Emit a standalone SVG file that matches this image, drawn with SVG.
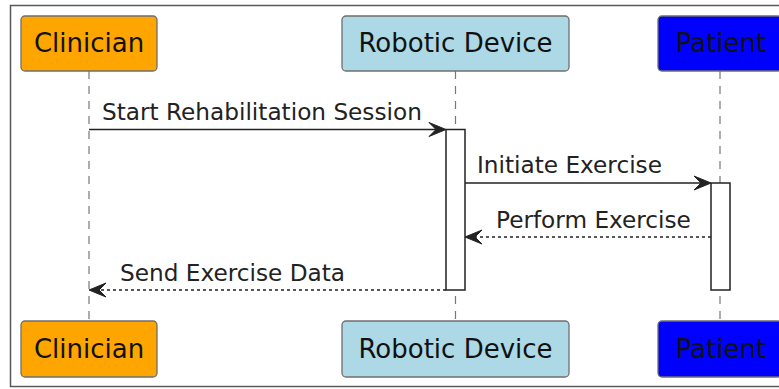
<svg xmlns="http://www.w3.org/2000/svg" width="779" height="389" viewBox="0 0 779 389">
  <style>
    .frame { fill: #ffffff; stroke: #5a5a5a; stroke-width: 1.5; }
    .lifeline { stroke: #777777; stroke-width: 1.2; stroke-dasharray: 8,7; fill: none; }
    .box { stroke: #6f6f6f; stroke-width: 1.3; }
    .ptext { font-family: "DejaVu Sans", "Liberation Sans", sans-serif; font-size: 26px; fill: #111111; text-anchor: middle; }
    .mtext { font-family: "DejaVu Sans", "Liberation Sans", sans-serif; font-size: 23.2px; fill: #222222; }
    .act { fill: #ffffff; stroke: #222222; stroke-width: 1.5; }
    .sync { stroke: #222222; stroke-width: 1.5; fill: none; }
    .reply { stroke: #222222; stroke-width: 1.5; fill: none; stroke-dasharray: 3,3; }
    .head { fill: #222222; stroke: #222222; stroke-width: 1; }
  </style>

  <!-- outer frame -->
  <rect class="frame" x="10.5" y="5.5" width="800" height="381"/>

  <!-- lifelines -->
  <g id="lifelines">
    <line class="lifeline" x1="89" y1="71" x2="89" y2="321"/>
    <line class="lifeline" x1="455.5" y1="71" x2="455.5" y2="321"/>
    <line class="lifeline" x1="720" y1="71" x2="720" y2="321"/>
  </g>

  <!-- participants (top and bottom heads) -->
  <g id="clinician">
    <rect class="box" x="21" y="16" width="136" height="55" rx="4" fill="#FFA500"/>
    <text class="ptext" x="89" y="52">Clinician</text>
    <rect class="box" x="21" y="321" width="136" height="56" rx="4" fill="#FFA500"/>
    <text class="ptext" x="89" y="358">Clinician</text>
  </g>
  <g id="robotic-device">
    <rect class="box" x="342" y="16" width="227" height="55" rx="4" fill="#ADD8E6"/>
    <text class="ptext" x="455.5" y="52">Robotic Device</text>
    <rect class="box" x="342" y="321" width="227" height="56" rx="4" fill="#ADD8E6"/>
    <text class="ptext" x="455.5" y="358">Robotic Device</text>
  </g>
  <g id="patient">
    <rect class="box" x="658" y="16" width="124" height="55" rx="4" fill="#0000FF"/>
    <text class="ptext" x="721" y="52">Patient</text>
    <rect class="box" x="658" y="321" width="124" height="56" rx="4" fill="#0000FF"/>
    <text class="ptext" x="721" y="358">Patient</text>
  </g>

  <!-- activation bars -->
  <g id="activations">
    <rect class="act" x="446" y="129.5" width="19" height="160.5"/>
    <rect class="act" x="711" y="183" width="19" height="107"/>
  </g>

  <!-- messages -->
  <g id="connectors">
    <line class="sync" x1="89" y1="129.5" x2="440" y2="129.5"/>
    <polygon class="head" points="446,129.5 429,122.5 436,129.5 429,136.5"/>
    <text class="mtext" x="102" y="120">Start Rehabilitation Session</text>

    <line class="sync" x1="465" y1="183" x2="705" y2="183"/>
    <polygon class="head" points="711,183 694,176 701,183 694,190"/>
    <text class="mtext" x="477" y="173">Initiate Exercise</text>

    <line class="reply" x1="711" y1="237" x2="471" y2="237"/>
    <polygon class="head" points="465,237 482,230 475,237 482,244"/>
    <text class="mtext" x="496" y="228">Perform Exercise</text>

    <line class="reply" x1="446" y1="290" x2="95" y2="290"/>
    <polygon class="head" points="89,290 106,283 99,290 106,297"/>
    <text class="mtext" x="120" y="281">Send Exercise Data</text>
  </g>
</svg>
